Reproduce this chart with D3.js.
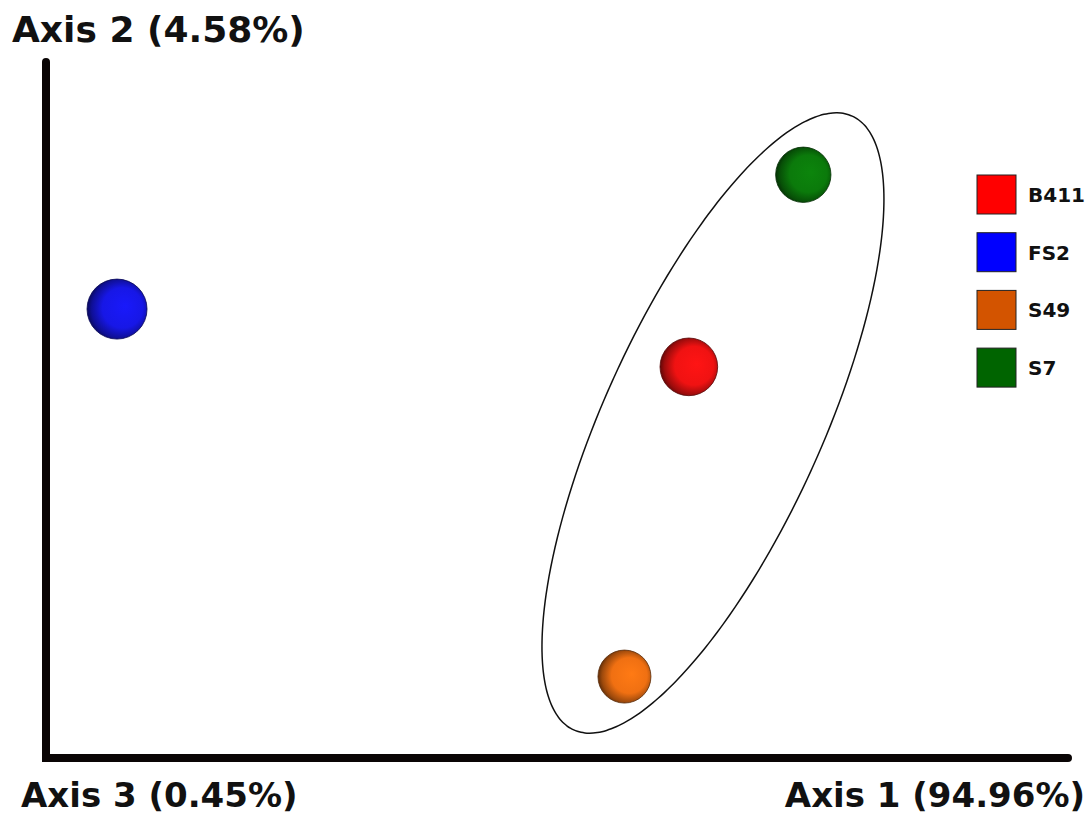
<!DOCTYPE html>
<html>
<head>
<meta charset="utf-8">
<script src="https://cdn.jsdelivr.net/npm/d3@7"></script>
<style>
  body { margin: 0; background: #fff; }
  text { font-family: "DejaVu Sans", Verdana, sans-serif; font-weight: bold; fill: #111; }
</style>
</head>
<body>
<svg id="chart" width="1091" height="816"></svg>
<script>
// PCoA scores (arbitrary units)
var samples = ["B411", "FS2", "S49", "S7"];
var axis1 = [62.9, 6.95, 56.6, 74.1];
var axis2 = [56.2, 64.5, 11.7, 83.8];
var axis3 = [0.6, 0.9, 0.0, 0.3];   // depth -> sphere size
var sphereColors = ["#f01212", "#1717e6", "#f07012", "#0b7a0b"];
var legendColors = ["#ff0000", "#0000ff", "#d35400", "#006400"];
var axisTitles = ["Axis 1 (94.96%)", "Axis 2 (4.58%)", "Axis 3 (0.45%)"];
// group ellipse around B411, S49, S7 (centre in data units)
var groupCentre = [65.26, 48.13];

var svg = d3.select('#chart');

var x = d3.scaleLinear().domain([0, 100]).range([46, 1068]);
var y = d3.scaleLinear().domain([0, 100]).range([758, 62]);
var r = d3.scaleLinear().domain([0, 0.9]).range([26.5, 30]);

var points = samples.map(function(s, i) {
    return {name: s, a1: axis1[i], a2: axis2[i], a3: axis3[i], color: sphereColors[i]};
});

// sphere gradients, light from the right so the left rim is darkest
var defs = svg.append('defs');
points.forEach(function(d, i) {
    var g = defs.append('radialGradient')
        .attr('id', 'sph' + i)
        .attr('cx', '0.56').attr('cy', '0.5').attr('r', '0.56')
        .attr('fx', '0.64').attr('fy', '0.45');
    g.append('stop').attr('offset', '0%').attr('stop-color', d3.color(d.color).brighter(0.25));
    g.append('stop').attr('offset', '60%').attr('stop-color', d.color);
    g.append('stop').attr('offset', '88%').attr('stop-color', d3.color(d.color).darker(1.2));
    g.append('stop').attr('offset', '100%').attr('stop-color', d3.color(d.color).darker(2.5));
});

// axes (L shape)
svg.append('path')
    .attr('d', 'M' + x(0) + ',' + y(100) + 'L' + x(0) + ',' + y(0) + 'L' + x(100) + ',' + y(0))
    .attr('fill', 'none')
    .attr('stroke', '#0a0505')
    .attr('stroke-width', 8)
    .attr('stroke-linecap', 'round')
    .attr('stroke-linejoin', 'miter');

// ellipse around the cluster
var ea = 337, eb = 109, theta = 65.6 * Math.PI / 180;
var cx = x(groupCentre[0]), cy = y(groupCentre[1]);
var ell = d3.range(0, 360, 2).map(function(deg) {
    var t = deg * Math.PI / 180;
    return [cx + ea * Math.cos(t) * Math.cos(theta) - eb * Math.sin(t) * Math.sin(theta),
            cy - (ea * Math.cos(t) * Math.sin(theta) + eb * Math.sin(t) * Math.cos(theta))];
});
svg.append('path')
    .attr('d', d3.line().curve(d3.curveCardinalClosed)(ell))
    .attr('fill', 'none')
    .attr('stroke', '#111')
    .attr('stroke-width', 1.5);

// spheres
svg.append('g').selectAll('circle')
    .data(points)
    .enter().append('circle')
    .attr('cx', d => x(d.a1))
    .attr('cy', d => y(d.a2))
    .attr('r', d => r(d.a3))
    .attr('fill', (d, i) => 'url(#sph' + i + ')')
    .attr('stroke', d => d3.color(d.color).darker(2.8))
    .attr('stroke-width', 0.8);

// axis titles
svg.append('text').attr('x', 12).attr('y', 42).attr('font-size', 36).text(axisTitles[1]);
svg.append('text').attr('x', 21).attr('y', 807).attr('font-size', 34).text(axisTitles[2]);
svg.append('text').attr('x', 1085).attr('y', 807).attr('font-size', 34)
    .attr('text-anchor', 'end').text(axisTitles[0]);

// legend
var legend = svg.append('g').attr('transform', 'translate(977,175)');
var item = legend.selectAll('g')
    .data(samples)
    .enter().append('g')
    .attr('transform', (d, i) => 'translate(0,' + i * 57.7 + ')');
item.append('rect')
    .attr('width', 39).attr('height', 39)
    .attr('fill', (d, i) => legendColors[i])
    .attr('stroke', '#222').attr('stroke-width', 1);
item.append('text')
    .attr('x', 51).attr('y', 27)
    .attr('font-size', 20)
    .text(d => d);
</script>
</body>
</html>
